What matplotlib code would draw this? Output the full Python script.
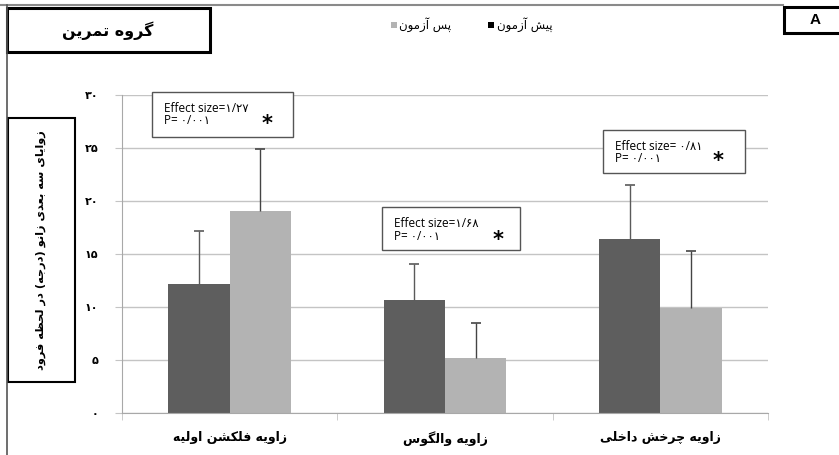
import numpy as np
import matplotlib
matplotlib.use('Agg')
import matplotlib.pyplot as plt
from matplotlib.patches import Rectangle
from matplotlib.lines import Line2D

# persian letters -> presentation forms (isolated, final, initial, medial)
FORMS = {
    'ا': ('\uFE8D', '\uFE8E'), 'آ': ('\uFE81', '\uFE82'),
    'د': ('\uFEA9', '\uFEAA'), 'ر': ('\uFEAD', '\uFEAE'),
    'ز': ('\uFEAF', '\uFEB0'), 'و': ('\uFEED', '\uFEEE'),
    'ب': ('\uFE8F', '\uFE90', '\uFE91', '\uFE92'),
    'پ': ('\uFB56', '\uFB57', '\uFB58', '\uFB59'),
    'ت': ('\uFE95', '\uFE96', '\uFE97', '\uFE98'),
    'ج': ('\uFE9D', '\uFE9E', '\uFE9F', '\uFEA0'),
    'چ': ('\uFB7A', '\uFB7B', '\uFB7C', '\uFB7D'),
    'ح': ('\uFEA1', '\uFEA2', '\uFEA3', '\uFEA4'),
    'خ': ('\uFEA5', '\uFEA6', '\uFEA7', '\uFEA8'),
    'س': ('\uFEB1', '\uFEB2', '\uFEB3', '\uFEB4'),
    'ش': ('\uFEB5', '\uFEB6', '\uFEB7', '\uFEB8'),
    'ظ': ('\uFEC5', '\uFEC6', '\uFEC7', '\uFEC8'),
    'ع': ('\uFEC9', '\uFECA', '\uFECB', '\uFECC'),
    'ف': ('\uFED1', '\uFED2', '\uFED3', '\uFED4'),
    'ک': ('\uFB8E', '\uFB8F', '\uFB90', '\uFB91'),
    'گ': ('\uFB92', '\uFB93', '\uFB94', '\uFB95'),
    'ل': ('\uFEDD', '\uFEDE', '\uFEDF', '\uFEE0'),
    'م': ('\uFEE1', '\uFEE2', '\uFEE3', '\uFEE4'),
    'ن': ('\uFEE5', '\uFEE6', '\uFEE7', '\uFEE8'),
    'ه': ('\uFEE9', '\uFEEA', '\uFEEB', '\uFEEC'),
    'ی': ('\uFBFC', '\uFBFD', '\uFBFE', '\uFBFF'),
}
MIRROR = {'(': ')', ')': '('}


def fa(s):
    out = []
    for i, c in enumerate(s):
        if c not in FORMS:
            out.append(MIRROR.get(c, c))
            continue
        prev = i > 0 and s[i - 1] in FORMS and len(FORMS[s[i - 1]]) == 4
        nxt = len(FORMS[c]) == 4 and i + 1 < len(s) and s[i + 1] in FORMS
        f = FORMS[c]
        if prev and nxt:
            out.append(f[3])
        elif prev:
            out.append(f[1])
        elif nxt:
            out.append(f[2])
        else:
            out.append(f[0])
    return ''.join(reversed(out))


categories = ['زاویه فلکشن اولیه', 'زاویه والگوس', 'زاویه چرخش داخلی']
pre_mean = [12.2, 10.7, 16.4]
pre_sd = [5.0, 3.4, 5.1]
post_mean = [19.1, 5.2, 9.9]
post_sd = [5.85, 3.3, 5.4]
yticks = [0, 5, 10, 15, 20, 25, 30]
ytick_labels = ['۰', '۵', '۱۰', '۱۵', '۲۰', '۲۵', '۳۰']
effect_sizes = ['Effect size=۱/۲۷', 'Effect size=۱/۶۸', 'Effect size= ۰/۸۱']
p_values = ['P= ۰/۰۰۱', 'P= ۰/۰۰۱', 'P= ۰/۰۰۱']

dark = '#5e5e5e'
light = '#b3b3b3'
grid = '#c4c4c4'

plt.rcParams['font.family'] = ['DejaVu Sans']

fig = plt.figure(figsize=(8.39, 4.55), dpi=100)
W, H = 839, 455
ax = fig.add_axes([122 / W, 1 - 413.3 / H, 646 / W, 318.3 / H])

x = np.arange(len(categories))
w = 0.285
ax.bar(x - w / 2, pre_mean, w, color=dark, zorder=2)
ax.bar(x + w / 2, post_mean, w, color=light, zorder=2)

# upper whiskers only, cap drawn as a short horizontal marker
for xs, m, sd, ec in [(x - w / 2, pre_mean, pre_sd, '#5a5a5a'),
                      (x + w / 2, post_mean, post_sd, '#444444')]:
    top = np.array(m) + np.array(sd)
    ax.errorbar(xs, m, yerr=[np.zeros(3), sd], fmt='none', ecolor=ec,
                elinewidth=1, capsize=0, zorder=3)
    ax.plot(xs, top, ls='none', marker='_', ms=7, mew=1.2, color=ec, zorder=3)

ax.set_xlim(-0.5, 2.5)
ax.set_ylim(0, 30)
ax.set_yticks(yticks)
ax.set_yticklabels(ytick_labels, fontsize=8, fontweight='bold')
ax.yaxis.grid(True, color=grid, linewidth=1, zorder=0)
ax.set_axisbelow(True)
ax.tick_params(axis='y', length=5, color=grid, pad=12)

ax.set_xticks(x)
ax.set_xticklabels([fa(c) for c in categories], fontsize=9, fontweight='bold')
ax.tick_params(axis='x', length=0, pad=13)
ax.set_xticks([-0.5, 0.5, 1.5, 2.5], minor=True)
ax.tick_params(axis='x', which='minor', length=5, color=grid)

for sp in ['top', 'right']:
    ax.spines[sp].set_visible(False)
for sp in ['left', 'bottom']:
    ax.spines[sp].set_color('#a8a8a8')

# outer frame
fig.add_artist(Line2D([0, 783 / W], [1 - 5 / H, 1 - 5 / H], color='#8a8a8a', lw=1.5))
fig.add_artist(Line2D([7 / W, 7 / W], [0, 1 - 5 / H], color='#555555', lw=1.2))

# title box
fig.add_artist(Rectangle((7 / W, 1 - 52 / H), 203 / W, 44 / H, fill=True,
                         facecolor='white', edgecolor='black', lw=2.2))
fig.text(108 / W, 1 - 31 / H, fa('گروه تمرین'), ha='center', va='center',
         fontsize=11.5, fontweight='bold')

# panel letter
fig.add_artist(Rectangle((784 / W, 1 - 33 / H), 70 / W, 26 / H, fill=True,
                         facecolor='white', edgecolor='black', lw=2.2))
fig.text(815 / W, 1 - 20 / H, 'A', ha='center', va='center', fontsize=11,
         fontweight='bold', family='Liberation Sans')

# y label box
fig.add_artist(Rectangle((8 / W, 1 - 382 / H), 67 / W, 264 / H, fill=True,
                         facecolor='white', edgecolor='black', lw=1.5, zorder=1))
fig.text(41 / W, 1 - 250 / H, fa('زوایای سه بعدی زانو (درجه) در لحظه فرود'),
         rotation=90, ha='center', va='center', fontsize=8.2, fontweight='bold',
         zorder=5)

# legend
fig.add_artist(Rectangle((391 / W, 1 - 28 / H), 6 / W, 6 / H, facecolor=light, lw=0))
fig.text(399 / W, 1 - 25 / H, fa('پس آزمون'), ha='left', va='center', fontsize=8.5)
fig.add_artist(Rectangle((488 / W, 1 - 28 / H), 6 / W, 6 / H, facecolor='black', lw=0))
fig.text(497 / W, 1 - 25 / H, fa('پیش آزمون'), ha='left', va='center', fontsize=8.5)

# effect size boxes
boxes = [(152, 92, 141, 45), (382, 207, 138, 43), (603, 130, 142, 43)]
stars = [(267, 124), (498, 240), (718, 161)]
for (bx, by, bw, bh), (sx, sy), es, pv in zip(boxes, stars, effect_sizes, p_values):
    fig.add_artist(Rectangle((bx / W, 1 - (by + bh) / H), bw / W, bh / H,
                             facecolor='white', edgecolor='#555555', lw=1))
    fig.text((bx + 12) / W, 1 - (by + 16) / H, es, ha='left', va='center',
             fontsize=8.5, family=['Open Sans', 'DejaVu Sans'])
    fig.text((bx + 12) / W, 1 - (by + 29) / H, pv, ha='left', va='center',
             fontsize=8.5, family=['Open Sans', 'DejaVu Sans'])
    fig.text(sx / W, 1 - sy / H, '*', ha='center', va='center', fontsize=15,
             fontweight='bold')

plt.savefig('out.png', dpi=100)
